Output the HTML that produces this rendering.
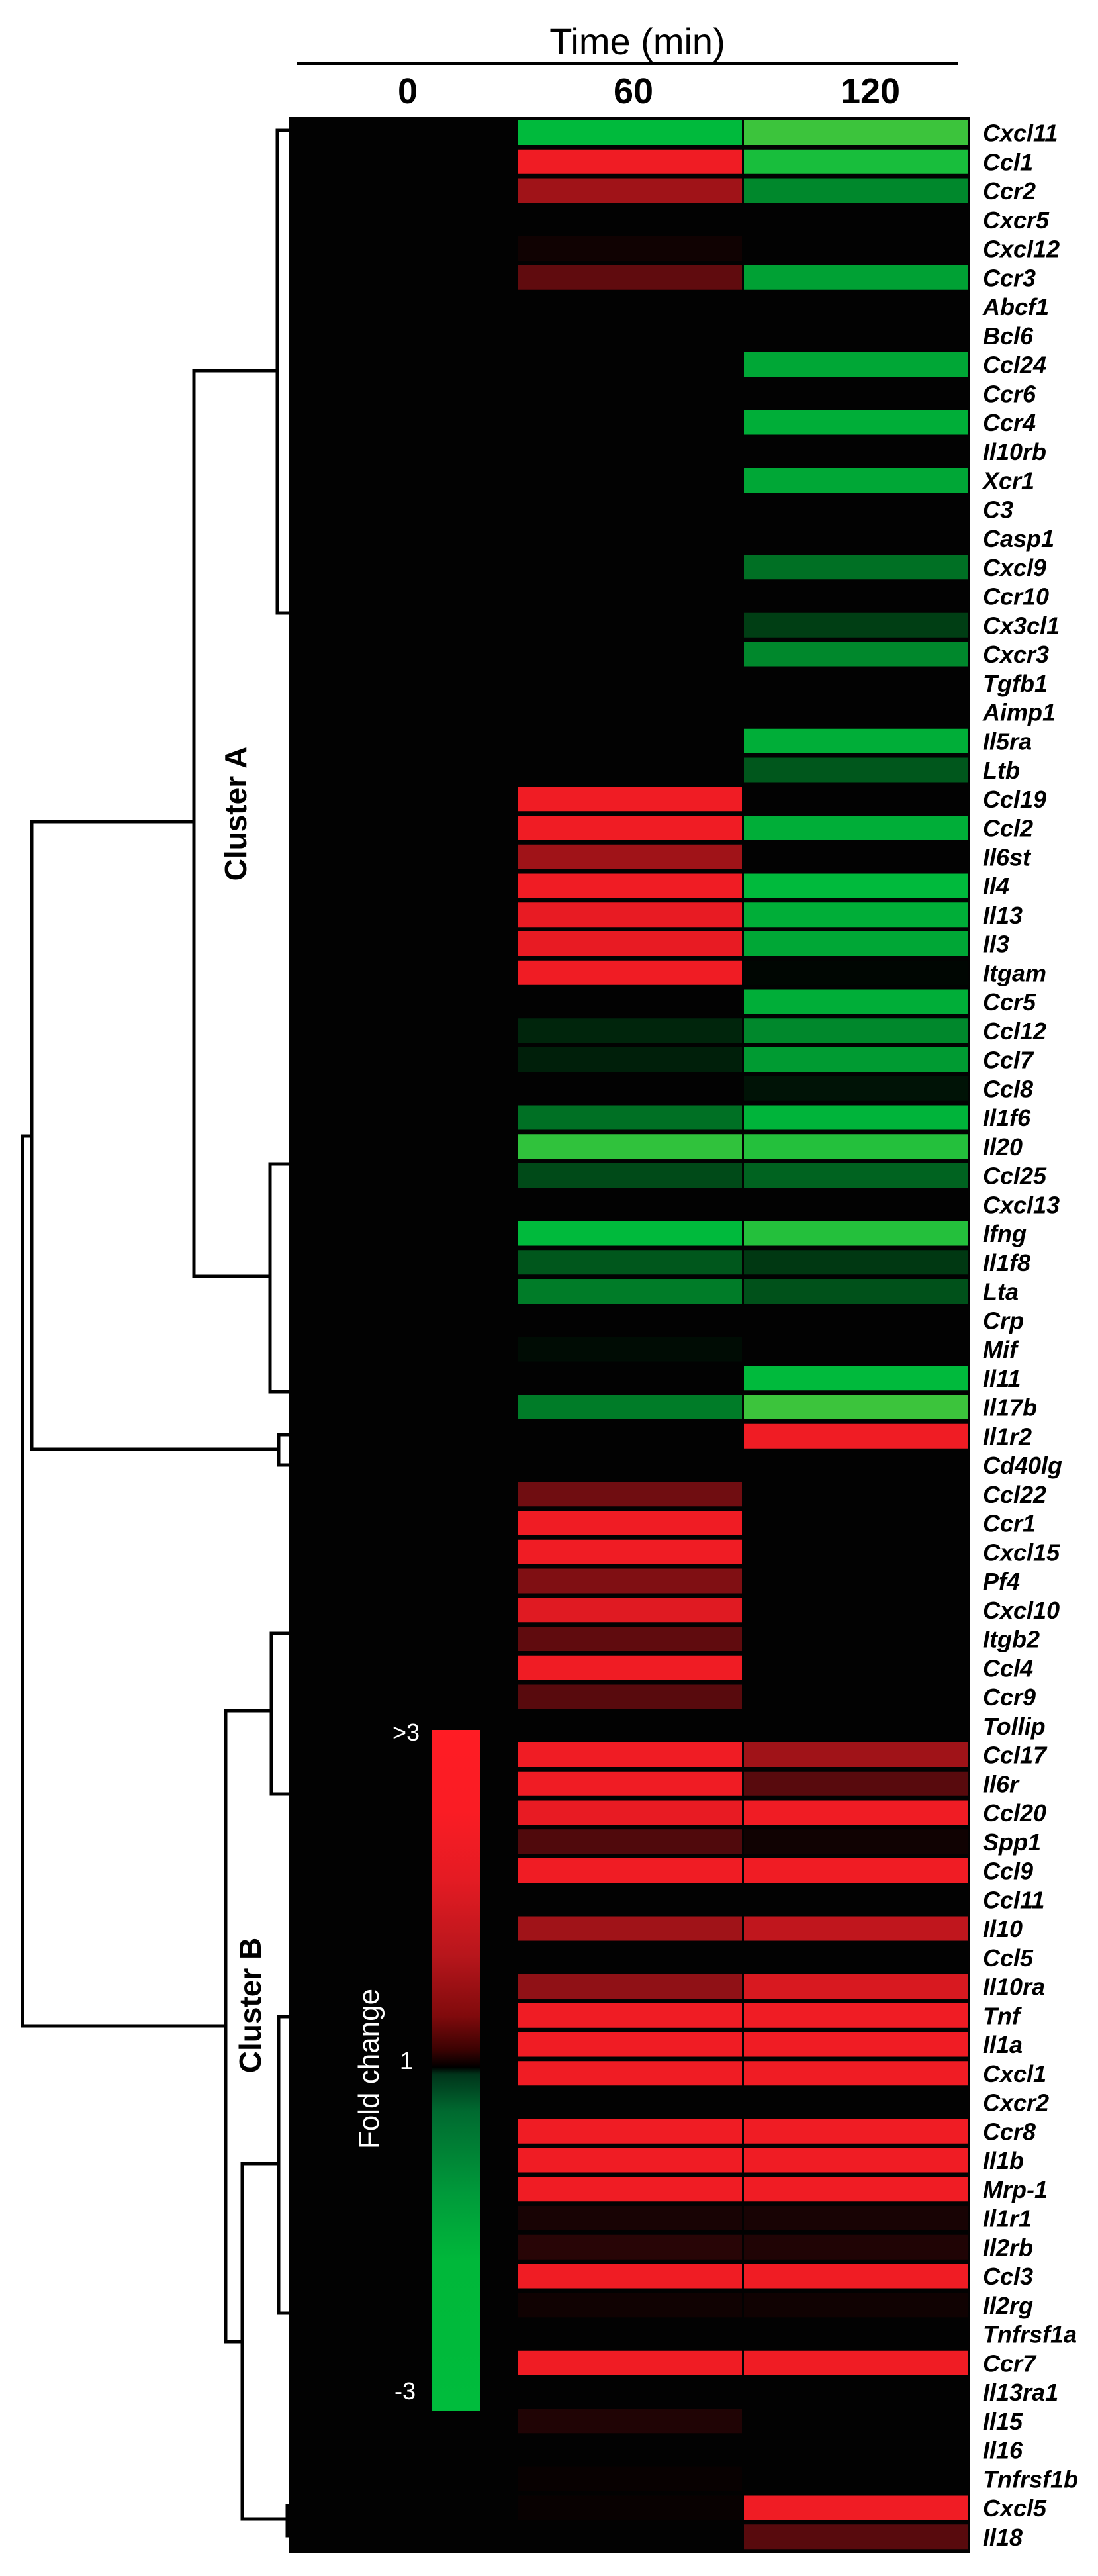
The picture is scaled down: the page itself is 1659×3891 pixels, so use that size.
<!DOCTYPE html>
<html><head><meta charset="utf-8"><style>
html,body{margin:0;padding:0;background:#fff;}
svg{display:block;}
text{font-family:"Liberation Sans",Arial,sans-serif;}
</style></head><body>
<svg id="chart" width="1659" height="3891" viewBox="0 0 1659 3891" xmlns="http://www.w3.org/2000/svg">
<defs>
<linearGradient id="cbar" x1="0" y1="0" x2="0" y2="1">
<stop offset="0" stop-color="#ff1c24"/>
<stop offset="0.12" stop-color="#fa1c24"/>
<stop offset="0.22" stop-color="#e41b23"/>
<stop offset="0.33" stop-color="#b8161c"/>
<stop offset="0.42" stop-color="#800a0c"/>
<stop offset="0.47" stop-color="#3a0202"/>
<stop offset="0.495" stop-color="#000"/>
<stop offset="0.505" stop-color="#00331a"/>
<stop offset="0.56" stop-color="#006a30"/>
<stop offset="0.68" stop-color="#009a3a"/>
<stop offset="0.78" stop-color="#00b83a"/>
<stop offset="1" stop-color="#00bc3c"/>
</linearGradient>
</defs>
<text x="963" y="82" font-size="56" text-anchor="middle">Time (min)</text>
<rect x="449" y="94" width="998" height="4" fill="#000"/>
<rect x="437" y="176" width="1029" height="3681" fill="#020202"/>
<g id="cols"></g>
<g id="cells"></g>
<g id="labels"></g>
<g id="dendro" stroke="#000" stroke-width="5" fill="none"></g>
<text transform="translate(372,1229) rotate(-90)" font-size="46" font-weight="bold" text-anchor="middle">Cluster A</text>
<text transform="translate(394,3029) rotate(-90)" font-size="46" font-weight="bold" text-anchor="middle">Cluster B</text>
<g>
<rect x="653" y="2613" width="73" height="1029" fill="url(#cbar)"/>
<text x="634" y="2629" font-size="36" fill="#fff" text-anchor="end">&gt;3</text>
<text x="624" y="3125" font-size="36" fill="#fff" text-anchor="end">1</text>
<text x="628" y="3624" font-size="36" fill="#fff" text-anchor="end">-3</text>
<text transform="translate(572,3125) rotate(-90)" font-size="44" fill="#fff" text-anchor="middle">Fold change</text>
</g>
</svg>
<script>
const timepoints = ["0", "60", "120"];
const genes = ["Cxcl11","Ccl1","Ccr2","Cxcr5","Cxcl12","Ccr3","Abcf1","Bcl6","Ccl24","Ccr6","Ccr4","Il10rb","Xcr1","C3","Casp1","Cxcl9","Ccr10","Cx3cl1","Cxcr3","Tgfb1","Aimp1","Il5ra","Ltb","Ccl19","Ccl2","Il6st","Il4","Il13","Il3","Itgam","Ccr5","Ccl12","Ccl7","Ccl8","Il1f6","Il20","Ccl25","Cxcl13","Ifng","Il1f8","Lta","Crp","Mif","Il11","Il17b","Il1r2","Cd40lg","Ccl22","Ccr1","Cxcl15","Pf4","Cxcl10","Itgb2","Ccl4","Ccr9","Tollip","Ccl17","Il6r","Ccl20","Spp1","Ccl9","Ccl11","Il10","Ccl5","Il10ra","Tnf","Il1a","Cxcl1","Cxcr2","Ccr8","Il1b","Mrp-1","Il1r1","Il2rb","Ccl3","Il2rg","Tnfrsf1a","Ccr7","Il13ra1","Il15","Il16","Tnfrsf1b","Cxcl5","Il18"];
const values60 = [-3,3,2,0,0.2,1.2,0,0,0,0,0,0,0,0,0,0,0,0,0,0,0,0,0,3,3,2,3,2.9,2.9,3,0,-0.6,-0.5,0,-1.8,-3.4,-1.2,0,-3,-1.4,-2,0,-0.2,0,-2,0,0,1.4,3,3,1.6,2.8,1.2,3,1.1,0,3,3,2.9,1,3,0,2,0,1.8,3,3,3,0,3,3,3,0.3,0.5,3,0.2,0,3,0,0.4,0,0.1,0.1,0];
const values120 = [-3.5,-3.2,-2.2,0,0,-2.6,0,0,-2.7,0,-2.8,0,-2.7,0,0,-1.8,0,-1.0,-2.2,0,0,-2.8,-1.4,0,-2.8,0,-3,-2.8,-2.7,-0.1,-2.8,-2.2,-2.5,-0.3,-2.9,-3.3,-1.6,0,-3.3,-0.9,-1.3,0,0,-3,-3.5,3,0,0,0,0,0,0,0,0,0,0,2,1.1,3,0.2,3,0,2.4,0,2.7,3,3,3,0,3,3,3,0.3,0.4,3,0.2,0,3,0,0,0,0,3,1.1];

const NS = "http://www.w3.org/2000/svg";
const rowTop0 = 182, rowPitch = 43.75, rowH = 37;
const colX = {"0": 437, "60": 783, "120": 1124};
const colW = {"0": 346, "60": 338, "120": 338};
const colCenter = {"0": 616, "60": 957, "120": 1315};
function yScale(i){ return rowTop0 + i * rowPitch; }
function colorScale(v){
  if (v >= 0) {
    const t = Math.min(v, 3) / 3;
    return `rgb(${Math.round(240*t)},${Math.round(28*t)},${Math.round(36*t)})`;
  }
  const a = -v, t = Math.min(a, 3) / 3, extra = Math.max(0, a - 3);
  return `rgb(${Math.round(120*extra)},${Math.round(186*t + 20*extra)},${Math.round(60*t)})`;
}
const cols = document.getElementById('cols');
timepoints.forEach(tp => {
  const t = document.createElementNS(NS, 'text');
  
  
  t.setAttribute('x', colCenter[tp]); t.setAttribute('y', 156);
  t.setAttribute('font-size', '54'); t.setAttribute('font-weight', 'bold');
  t.setAttribute('text-anchor', 'middle');
  t.textContent = tp;
  cols.appendChild(t);
});
const cells = document.getElementById('cells');
const labels = document.getElementById('labels');
const series = {"60": values60, "120": values120};
genes.forEach((g, i) => {
  ["60", "120"].forEach(tp => {
    const v = series[tp][i];
    if (Math.abs(v) < 0.05) return;
    const r = document.createElementNS(NS, 'rect');
    
    
    r.setAttribute('x', colX[tp]); r.setAttribute('y', yScale(i));
    r.setAttribute('width', colW[tp]); r.setAttribute('height', rowH);
    r.setAttribute('fill', colorScale(v));
    cells.appendChild(r);
  });
  const t = document.createElementNS(NS, 'text');
  
  
  t.setAttribute('x', 1485); t.setAttribute('y', yScale(i) + rowH/2 + 13);
  t.setAttribute('font-size', '36'); t.setAttribute('font-weight', 'bold');
  t.setAttribute('font-style', 'italic');
  t.textContent = g;
  labels.appendChild(t);
});
const dendroPaths = [
 "M437 197 H419 V926 H437",
 "M419 560 H293 V1928 H408",
 "M437 1758 H408 V2102 H437",
 "M293 1241 H48 V2189 H421",
 "M437 2167 H421 V2213 H437",
 "M48 1716 H34 V3060 H341",
 "M410 2584 H341 V3537 H366",
 "M437 2467 H410 V2710 H437",
 "M421 3268 H366 V3805 H434",
 "M437 3046 H421 V3494 H437",
 "M437 3785 H434 V3830 H437"
];
const dendro = document.getElementById('dendro');
dendroPaths.forEach((d, k) => {
  const p = document.createElementNS(NS, 'path');
  
  
  p.setAttribute('d', d);
  dendro.appendChild(p);
});
</script>
</body></html>
